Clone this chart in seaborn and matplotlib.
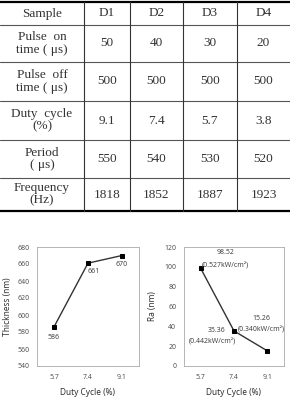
import matplotlib
matplotlib.use("Agg")
import matplotlib.pyplot as plt
import numpy as np
import pandas as pd
import seaborn as sns

# Table data
header = ["Sample", "D1", "D2", "D3", "D4"]
row_labels = ["Pulse  on\ntime ( μs)", "Pulse  off\ntime ( μs)", "Duty  cycle\n(%)",
              "Period\n( μs)", "Frequency\n(Hz)"]
pulse_on = ["50", "40", "30", "20"]
pulse_off = ["500", "500", "500", "500"]
duty_cycle = ["9.1", "7.4", "5.7", "3.8"]
period = ["550", "540", "530", "520"]
frequency = ["1818", "1852", "1887", "1923"]
table_rows = [pulse_on, pulse_off, duty_cycle, period, frequency]

# Chart data
duty_labels = ["5.7", "7.4", "9.1"]
thickness = [586, 661, 670]
roughness = [98.52, 35.36, 15.26]
power = ["(0.527kW/cm²)", "(0.442kW/cm²)", "(0.340kW/cm²)"]

W, H = 290, 403
sns.set_style("white")
plt.rcParams["font.family"] = ["Noto Sans", "DejaVu Sans"]

fig = plt.figure(figsize=(W / 100, H / 100), dpi=100)

# ---- table (drawn in pixel coordinates) ----
tab = fig.add_axes([0, 0, 1, 1])
tab.set_xlim(0, W)
tab.set_ylim(H, 0)
tab.axis("off")

col_edges = [0, 84, 130, 183, 237, 290]
row_edges = [2, 25, 62, 101, 140, 178, 211]
serif = ["Liberation Serif", "DejaVu Serif"]
tcolor = "#333333"

tab.plot([0, W], [row_edges[0], row_edges[0]], color="black", lw=1.6)
tab.plot([0, W], [row_edges[-1], row_edges[-1]], color="black", lw=1.6)
for y in row_edges[1:-1]:
    tab.plot([0, W], [y, y], color="#555555", lw=0.8)
for x in col_edges[1:-1]:
    tab.plot([x, x], [row_edges[0], row_edges[-1]], color="#333333", lw=0.8)

def cx(i):
    return (col_edges[i] + col_edges[i + 1]) / 2

def cy(j):
    return (row_edges[j] + row_edges[j + 1]) / 2

for i, h in enumerate(header):
    tab.text(cx(i), cy(0), h, ha="center", va="center", fontsize=9.5,
             family=serif, color=tcolor)
for j, (lab, vals) in enumerate(zip(row_labels, table_rows)):
    tab.text(cx(0), cy(j + 1), lab, ha="center", va="center", fontsize=9.5,
             family=serif, color=tcolor, linespacing=1.05)
    for i, v in enumerate(vals):
        tab.text(cx(i + 1), cy(j + 1), v, ha="center", va="center",
                 fontsize=9.5, family=serif, color=tcolor)

# ---- charts ----
df = pd.DataFrame({"pos": np.arange(len(duty_labels)), "duty": duty_labels,
                   "thickness": thickness, "ra": roughness})

ax1 = fig.add_axes([37 / W, 1 - 366 / H, 102 / W, 119 / H])
ax2 = fig.add_axes([184 / W, 1 - 366 / H, 100 / W, 119 / H])

for ax, col in [(ax1, "thickness"), (ax2, "ra")]:
    sns.lineplot(data=df, x="pos", y=col, ax=ax, color="#333333", lw=1.0,
                 marker="s", markersize=3.2, markerfacecolor="black",
                 markeredgecolor="black")
    ax.set_xlim(-0.5, 2.5)
    ax.set_xticks(df["pos"])
    ax.set_xticklabels(duty_labels)
    ax.tick_params(labelsize=5, colors="#555555", length=1.5, width=0.5, pad=4)
    for s in ax.spines.values():
        s.set_color("#aaaaaa")
        s.set_linewidth(0.6)
    ax.set_xlabel("Duty Cycle (%)", fontsize=6, fontweight="bold", color="#333333",
                  labelpad=5)

ax1.set_ylim(540, 680)
ax1.set_yticks(np.arange(540, 681, 20))
ax1.set_ylabel("Thickness (nm)", fontsize=6, fontweight="bold", color="#333333",
               labelpad=4)
ax2.set_ylim(0, 120)
ax2.set_yticks(np.arange(0, 121, 20))
ax2.set_ylabel("Ra (nm)", fontsize=6, fontweight="bold", color="#333333",
               labelpad=5)

lab_kw = dict(fontsize=5, color="#444444", ha="center", va="center")
ax1.text(0, 574, str(thickness[0]), **lab_kw)
ax1.text(1.18, 651, str(thickness[1]), **lab_kw)
ax1.text(2, 659, str(thickness[2]), **lab_kw)

ax2.text(0.74, 114, f"{roughness[0]:.2f}", **lab_kw)
ax2.text(0.74, 101, power[0], **lab_kw)
ax2.text(0.47, 36, f"{roughness[1]:.2f}", **lab_kw)
ax2.text(0.35, 24, power[1], **lab_kw)
ax2.text(1.82, 48, f"{roughness[2]:.2f}", **lab_kw)
ax2.text(1.82, 36, power[2], **lab_kw)

fig.savefig("out.png", dpi=100)
